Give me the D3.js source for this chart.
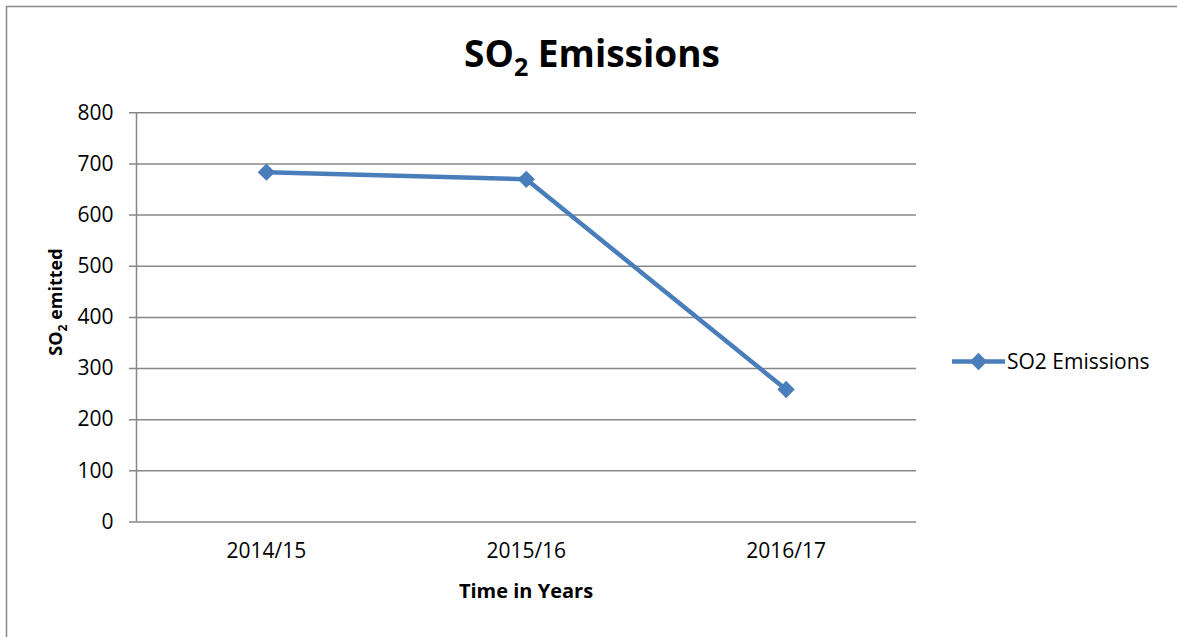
<!DOCTYPE html>
<html>
<head>
<meta charset="utf-8">
<script src="https://cdn.jsdelivr.net/npm/d3@7"></script>
<style>
  body { margin: 0; background: #fff; }
  text { font-family: "Open Sans", sans-serif; }
</style>
</head>
<body>
<div class="linechart"></div>
<script>
var W = 1177, H = 637;
var years = ["2014/15", "2015/16", "2016/17"];
var so2 = [683, 669, 258];
var yTicks = [0, 100, 200, 300, 400, 500, 600, 700, 800];
var seriesName = "SO2 Emissions";

var padLeft = 136.5, padRight = 916, padTop = 112.3, padBottom = 521.5;
var lineColor = "#4a7ebb";
var gridColor = "#878787";

var svg = d3.select(".linechart")
            .append("svg")
            .attr("width", W)
            .attr("height", H);

// outer frame (right and bottom edges fall outside the picture)
svg.append("rect")
   .attr("x", 6.5).attr("y", 6.5)
   .attr("width", 1175).attr("height", 640)
   .attr("fill", "none")
   .attr("stroke", gridColor)
   .attr("stroke-width", 1.5);

var xScale = d3.scaleBand().domain(years).range([padLeft, padRight]);
var yScale = d3.scaleLinear().domain([0, 800]).range([padBottom, padTop]);

// y axis with gridlines
var yAxis = d3.axisLeft(yScale).tickValues(yTicks).tickSize(0).tickPadding(23);
svg.append("g")
   .attr("transform", `translate(${padLeft},0)`)
   .call(yAxis)
   .call(g => {
     g.select(".domain").remove();
     g.selectAll(".tick line")
      .attr("x1", -7.5)
      .attr("x2", padRight - padLeft)
      .attr("stroke", gridColor)
      .attr("stroke-width", 1.5);
     g.selectAll("text")
      .attr("fill", "#000")
      .style("font-size", "21px")
      .attr("font-family", "Open Sans");
   });

// left axis line
svg.append("line")
   .attr("x1", padLeft).attr("x2", padLeft)
   .attr("y1", padTop).attr("y2", padBottom)
   .attr("stroke", gridColor)
   .attr("stroke-width", 1.5);

// x axis labels
var xAxis = d3.axisBottom(xScale).tickSize(0).tickPadding(22);
svg.append("g")
   .attr("transform", `translate(0,${padBottom})`)
   .call(xAxis)
   .call(g => {
     g.select(".domain").remove();
     g.selectAll("text")
      .attr("fill", "#000")
      .style("font-size", "21px")
      .attr("font-family", "Open Sans");
   });

// line
var line = d3.line()
             .x((d, i) => xScale(years[i]) + xScale.bandwidth() / 2)
             .y(d => yScale(d));

svg.append("path")
   .datum(so2)
   .attr("fill", "none")
   .attr("stroke", lineColor)
   .attr("stroke-width", 4.5)
   .attr("stroke-linejoin", "round")
   .attr("d", line);

var diamond = d3.symbol().type(d3.symbolSquare).size(150);
svg.selectAll(".marker")
   .data(so2)
   .enter().append("path")
   .attr("class", "marker")
   .attr("d", diamond)
   .attr("fill", lineColor)
   .attr("transform", (d, i) => `translate(${xScale(years[i]) + xScale.bandwidth() / 2},${yScale(d)}) rotate(45)`);

// title
var title = svg.append("text")
   .attr("x", 592).attr("y", 67)
   .attr("text-anchor", "middle")
   .style("font-size", "37px")
   .style("font-weight", "bold");
title.append("tspan").text("SO");
title.append("tspan").attr("dy", 9).style("font-size", "25px").text("2");
title.append("tspan").attr("dy", -9).text(" Emissions");

// x axis title
svg.append("text")
   .attr("x", 526).attr("y", 598)
   .attr("text-anchor", "middle")
   .style("font-size", "20px")
   .style("font-weight", "bold")
   .text("Time in Years");

// y axis title
var yt = svg.append("text")
   .attr("transform", "translate(62,302) rotate(-90)")
   .attr("text-anchor", "middle")
   .style("font-size", "18px")
   .style("font-weight", "bold");
yt.append("tspan").text("SO");
yt.append("tspan").attr("dy", 5).style("font-size", "12px").text("2");
yt.append("tspan").attr("dy", -5).text(" emitted");

// legend
var lg = svg.append("g").attr("transform", "translate(952,361.5)");
lg.append("line")
  .attr("x1", 0).attr("x2", 53)
  .attr("stroke", lineColor)
  .attr("stroke-width", 4.5);
lg.append("path")
  .attr("d", diamond)
  .attr("fill", lineColor)
  .attr("transform", "translate(26.5,0) rotate(45)");
lg.append("text")
  .attr("x", 55).attr("y", 7)
  .style("font-size", "21px")
  .text(seriesName);
</script>
</body>
</html>
